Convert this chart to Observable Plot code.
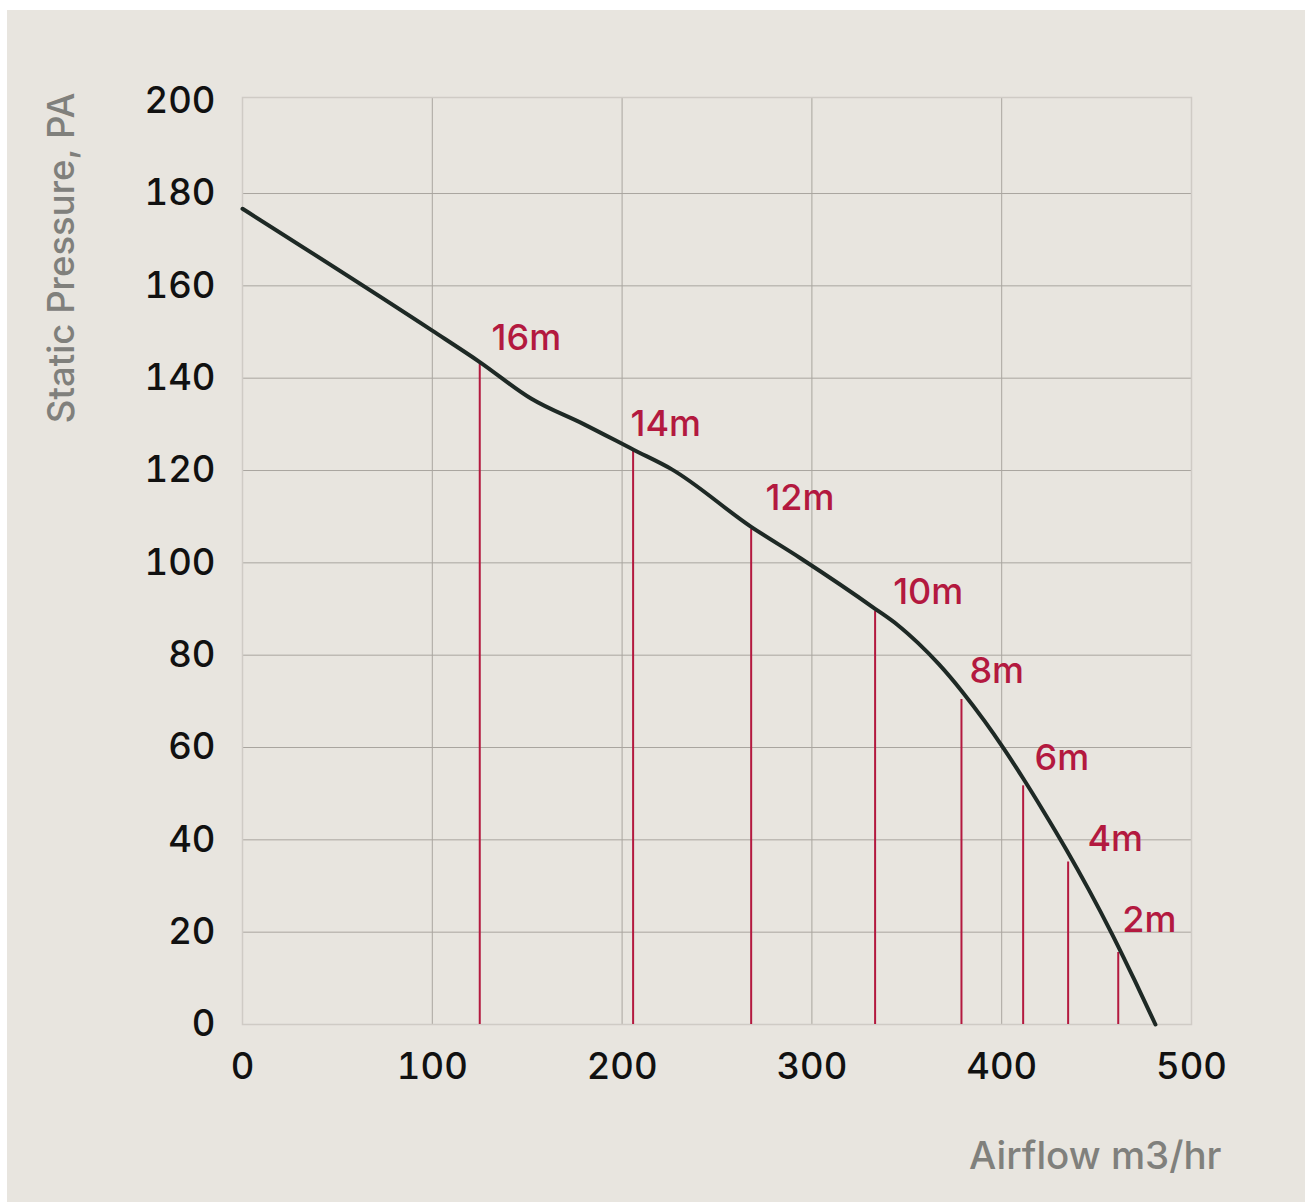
<!DOCTYPE html>
<html><head><meta charset="utf-8">
<script src="https://cdn.jsdelivr.net/npm/d3@7"></script>
<script src="https://cdn.jsdelivr.net/npm/@observablehq/plot@0.6"></script>
<style>
html,body{margin:0;padding:0;background:#fff;}
#panel{position:absolute;left:7px;top:10px;width:1298px;height:1192px;background:#e8e5df;}
#panel svg{display:block;}
</style></head><body><div id="panel"></div>
<script>
// Fan curve: airflow (m3/hr) vs static pressure (Pa)
const airflow  = [0, 100, 125, 152, 180, 206, 226, 268, 294, 333.5, 345, 356, 367, 379, 391, 401, 411, 422, 434, 446, 458, 470, 481];
const pressure = [176.7, 150.3, 143.5, 135.6, 130, 124.5, 120.3, 107.8, 101, 90, 86.6, 82.6, 78.0, 72.2, 65.7, 59.8, 53.5, 46.2, 37.9, 29.1, 19.7, 9.6, 0];

// Duct-length markers
const markerLabels   = ["16m", "14m", "12m", "10m", "8m", "6m", "4m", "2m"];
const markerFlow     = [125, 205.8, 268, 333.3, 378.8, 411.3, 435, 461.4];
const markerPressure = [143.1, 124.3, 107.3, 89.5, 70.4, 51.7, 35.2, 15.6];
const labelFlow      = [131.2, 204.4, 275.5, 342.8, 383, 417.3, 445.2, 463.5];
const labelPressure  = [146.2, 127.5, 111.5, 91.0, 74.0, 55.1, 37.6, 20.1];

const xTicks = [0, 100, 200, 300, 400, 500];
const yTicks = [0, 20, 40, 60, 80, 100, 120, 140, 160, 180, 200];
const xLabel = "Airflow m3/hr";
const yLabel = "Static Pressure, PA";

const curveData = airflow.map((q, i) => ({q, p: pressure[i]}));
const markers = markerLabels.map((t, i) => ({
  t, f: markerFlow[i], top: markerPressure[i], lx: labelFlow[i], ly: labelPressure[i]
}));

const RED = "#b3193f";
const chart = Plot.plot({
  width: 1298, height: 1192,
  marginLeft: 235, marginTop: 87, marginRight: 114, marginBottom: 178,
  style: {background: "transparent", fontFamily: "Inter, sans-serif", overflow: "visible"},
  x: {domain: [0, 500]},
  y: {domain: [0, 200.8]},
  marks: [
    Plot.gridX(xTicks.slice(1, -1), {stroke: "#a9a59f", strokeOpacity: 1, strokeWidth: 1}),
    Plot.gridY(yTicks.slice(1, -1), {stroke: "#a9a59f", strokeOpacity: 1, strokeWidth: 1}),
    Plot.frame({stroke: "#cfcbc5", strokeWidth: 1.5}),
    Plot.ruleX(markers, {x: "f", y1: 0, y2: "top", stroke: RED, strokeWidth: 2}),
    Plot.line(curveData, {x: "q", y: "p", stroke: "#1e2925", strokeWidth: 4, curve: "monotone-x"}),
    Plot.text(markers, {x: "lx", y: "ly", text: "t", textAnchor: "start", lineAnchor: "bottom",
      fill: RED, fontSize: 36, fontWeight: 500}),
    Plot.axisX(xTicks, {tickSize: 0, tickPadding: 29, fontSize: 36.5, fill: "#111", fontWeight: 500, label: null}),
    Plot.axisY(yTicks, {tickSize: 0, tickPadding: 27, fontSize: 36.5, fill: "#111", fontWeight: 500, label: null}),
    Plot.text([yLabel], {text: d => d, frameAnchor: "top-left", rotate: -90, textAnchor: "end", lineAnchor: "middle",
      dx: -180, dy: -5, fill: "#80807c", fontSize: 36.5, fontWeight: 500}),
    Plot.text([xLabel], {text: d => d, frameAnchor: "bottom-right", textAnchor: "end", lineAnchor: "bottom",
      dx: 30, dy: 144, fill: "#80807c", fontSize: 38.5, fontWeight: 500})
  ]
});
document.getElementById("panel").appendChild(chart);
</script></body></html>
